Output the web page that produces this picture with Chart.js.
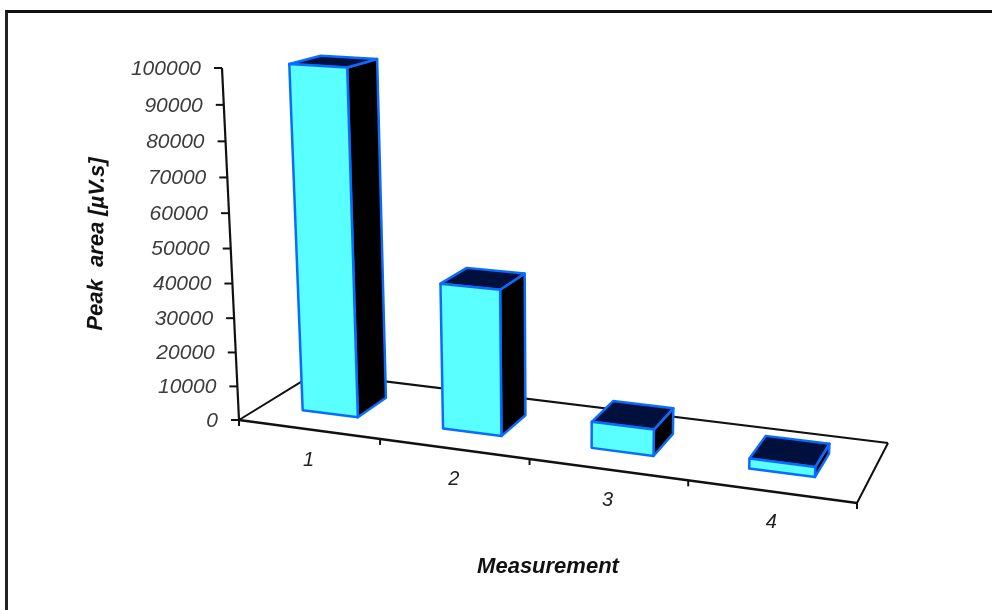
<!DOCTYPE html>
<html>
<head>
<meta charset="utf-8">
<script src="https://cdn.jsdelivr.net/npm/chart.js@4"></script>
<style>
  html, body { margin: 0; background: #fff; overflow: hidden; }
  #wrap { position: relative; width: 992px; height: 610px; }
  #Chart1 { filter: blur(0.4px); }
  #frame { position: absolute; left: 5px; top: 10px; right: 0; bottom: 0;
           border-top: 3px solid #111; border-left: 3px solid #222; pointer-events: none; }
</style>
</head>
<body>
<div id="wrap">
  <canvas id="Chart1" width="992" height="610"></canvas>
  <div id="frame"></div>
</div>
<script>
const measurements = ['1', '2', '3', '4'];
const peakArea = [100000, 42000, 7500, 2800];
const yTitle = 'Peak  area [µV.s]';
const xTitle = 'Measurement';

// floor corners on the page: front left, front right, back right, back left
const A = [239, 420], B = [857, 503], C = [888, 443], D = [315.7, 372.8];
const axisTop = [222, 68];
const vanishX = 560;      // where the uprights meet, far below the chart
const depthFront = 0.30, depthBack = 0.70;
const barShift = -1.5;    // bars sit a little left of the category centre

// floor square -> page, then add the upright direction
const dx1 = B[0] - C[0], dx2 = D[0] - C[0], sx = A[0] - B[0] + C[0] - D[0];
const dy1 = B[1] - C[1], dy2 = D[1] - C[1], sy = A[1] - B[1] + C[1] - D[1];
const det = dx1 * dy2 - dx2 * dy1;
const g = (sx * dy2 - dx2 * sy) / det;
const h = (dx1 * sy - sx * dy1) / det;
const a = B[0] - A[0] + g * B[0], b = D[0] - A[0] + h * D[0];
const d = B[1] - A[1] + g * B[1], e = D[1] - A[1] + h * D[1];
const i3 = (A[0] - axisTop[0]) / (axisTop[0] - vanishX);
const ex = axisTop[0] * (1 + i3) - A[0];
const ey = axisTop[1] * (1 + i3) - A[1];

function project(chart, px, depth, py) {
  const area = chart.chartArea;
  const u = (px - area.left) / (area.right - area.left);
  const t = (area.bottom - py) / (area.bottom - area.top);
  const q = g * u + h * depth + 1 + i3 * t;
  return [(a * u + b * depth + A[0] + ex * t) / q, (d * u + e * depth + A[1] + ey * t) / q];
}

function poly(ctx, pts, fill, stroke, lw) {
  ctx.beginPath();
  pts.forEach((p, n) => n ? ctx.lineTo(p[0], p[1]) : ctx.moveTo(p[0], p[1]));
  ctx.closePath();
  ctx.fillStyle = fill;
  ctx.fill();
  ctx.lineJoin = 'round';
  ctx.strokeStyle = stroke;
  ctx.lineWidth = lw;
  ctx.stroke();
}

function line(ctx, p, q, lw) {
  ctx.beginPath();
  ctx.moveTo(p[0], p[1]);
  ctx.lineTo(q[0], q[1]);
  ctx.strokeStyle = '#111';
  ctx.lineWidth = lw;
  ctx.stroke();
}

const box3d = {
  id: 'box3d',
  beforeDatasetsDraw(chart) {
    const ctx = chart.ctx, area = chart.chartArea, xs = chart.scales.x, ys = chart.scales.y;
    const base = area.bottom;
    ctx.save();
    // floor
    const fl = project(chart, area.left, 0, base), fr = project(chart, area.right, 0, base);
    const br = project(chart, area.right, 1, base), bl = project(chart, area.left, 1, base);
    line(ctx, fl, bl, 2);
    line(ctx, bl, br, 2.2);
    line(ctx, br, fr, 2);
    line(ctx, fl, fr, 2.5);
    // value axis with ticks
    line(ctx, fl, project(chart, area.left, 0, area.top), 2.2);
    ys.ticks.forEach(t => {
      const p = project(chart, area.left, 0, ys.getPixelForValue(t.value));
      line(ctx, [p[0] - 8, p[1]], p, 2);
    });
    // category ticks sit on the boundaries
    const cat = (area.right - area.left) / measurements.length;
    for (let n = 0; n <= measurements.length; n++) {
      const p = project(chart, xs.getPixelForValue(0) - cat / 2 + n * cat, 0, base);
      line(ctx, p, [p[0], p[1] + 6], 2);
    }
    ctx.restore();
  },
  beforeDatasetDraw(chart, args) {
    const ctx = chart.ctx;
    ctx.save();
    args.meta.data.forEach(bar => {
      const opt = bar.options;
      const l = bar.x + barShift - bar.width / 2, r = bar.x + barShift + bar.width / 2;
      const flb = project(chart, l, depthFront, bar.base), frb = project(chart, r, depthFront, bar.base);
      const brb = project(chart, r, depthBack, bar.base);
      const flt = project(chart, l, depthFront, bar.y), frt = project(chart, r, depthFront, bar.y);
      const brt = project(chart, r, depthBack, bar.y), blt = project(chart, l, depthBack, bar.y);
      poly(ctx, [frb, brb, brt, frt], '#000', opt.borderColor, opt.borderWidth);
      poly(ctx, [flt, frt, brt, blt], '#00103c', opt.borderColor, opt.borderWidth);
      poly(ctx, [flb, frb, frt, flt], opt.backgroundColor, opt.borderColor, opt.borderWidth);
    });
    ctx.restore();
    return false;
  },
  afterDraw(chart) {
    const ctx = chart.ctx, area = chart.chartArea, xs = chart.scales.x, ys = chart.scales.y;
    ctx.save();
    ctx.textBaseline = 'middle';
    ctx.fillStyle = '#3c3c3c';
    ctx.font = 'italic 21px "Liberation Sans"';
    ctx.textAlign = 'right';
    ys.ticks.forEach(t => {
      const p = project(chart, area.left, 0, ys.getPixelForValue(t.value));
      ctx.fillText(String(t.value), p[0] - 21, p[1] + 1);
    });
    ctx.fillStyle = '#222';
    ctx.font = 'italic 20px "Liberation Sans"';
    ctx.textAlign = 'center';
    measurements.forEach((m, n) => {
      const p = project(chart, xs.getPixelForValue(n), 0, area.bottom);
      ctx.fillText(m, p[0], p[1] + 31);
    });
    ctx.fillStyle = '#111';
    ctx.font = 'italic bold 22px "Liberation Sans"';
    ctx.fillText(xTitle, 548, 567);
    ctx.translate(97, 244);
    ctx.rotate(-Math.PI / 2 + 0.012);
    ctx.fillText(yTitle, 0, 0);
    ctx.restore();
  }
};

new Chart(document.getElementById('Chart1'), {
  type: 'bar',
  plugins: [box3d],
  data: {
    labels: measurements,
    datasets: [{
      data: peakArea,
      backgroundColor: '#5affff',
      borderColor: '#0a6cff',
      borderWidth: 2.5,
      barPercentage: 0.4,
      categoryPercentage: 1
    }]
  },
  options: {
    responsive: false,
    animation: false,
    layout: { padding: { left: 239, right: 135, top: 68, bottom: 190 } },
    scales: {
      x: { display: false },
      y: { display: false, min: 0, max: 100000, ticks: { stepSize: 10000 } }
    },
    plugins: { legend: { display: false }, tooltip: { enabled: false } }
  }
});
</script>
</body>
</html>
